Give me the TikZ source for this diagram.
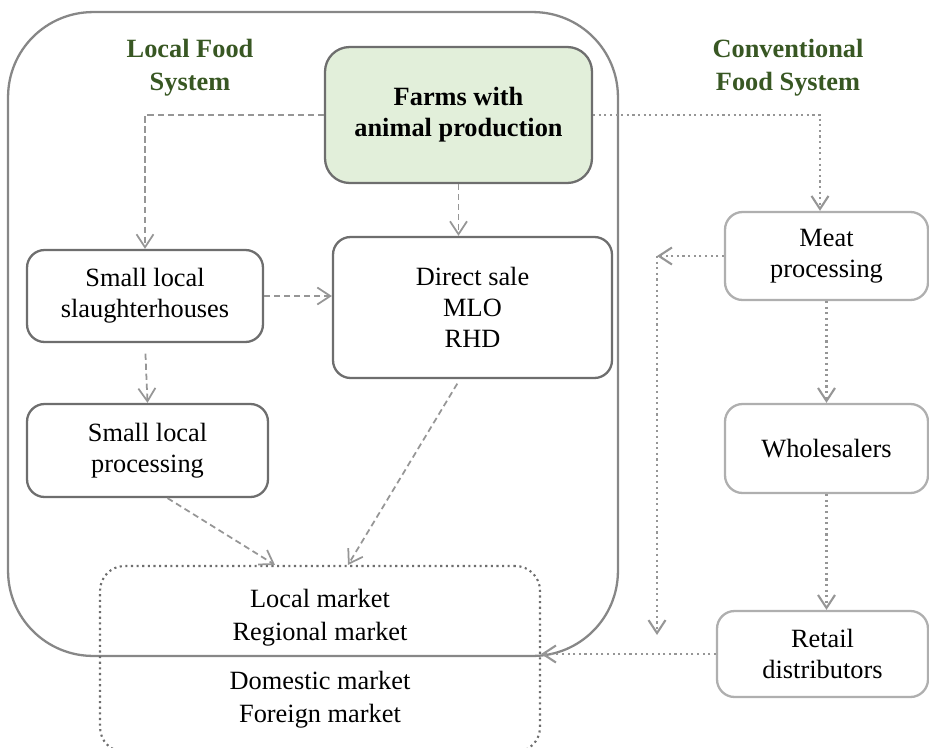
\documentclass[tikz,border=0pt]{standalone}
\usepackage{fontspec}
\setmainfont{Liberation Serif}
\usepackage{tikz}
\usetikzlibrary{positioning,calc}
\usetikzlibrary{arrows.meta}
\definecolor{FarmGreen}{RGB}{226,239,218}
\definecolor{TitleGreen}{RGB}{56,87,35}
\definecolor{FrameGray}{RGB}{135,135,135}
\definecolor{LineGray}{RGB}{150,150,150}
\definecolor{BoxGray}{RGB}{110,110,110}
\definecolor{ConvGray}{RGB}{175,175,175}
\tikzset{
  txt/.style={font=\fontsize{15}{17.6}\selectfont,align=center},
  title/.style={txt,font=\fontsize{15}{19}\selectfont\bfseries,text=TitleGreen},
  localbox/.style={txt,draw=BoxGray,line width=1.3pt,rounded corners=10pt,fill=white},
  convbox/.style={txt,draw=ConvGray,line width=1.3pt,rounded corners=10pt,fill=white},
  farmbox/.style={txt,draw=BoxGray,line width=1.3pt,rounded corners=14pt,fill=FarmGreen,
    font=\fontsize{15}{17.6}\selectfont\bfseries},
  lflow/.style={draw=LineGray,line width=1pt,dash pattern=on 3.5pt off 2.2pt,
    -{Straight Barb[length=2.6mm,width=3.4mm]}},
  cflow/.style={draw=LineGray,line width=1.2pt,dotted,
    -{Straight Barb[length=2.6mm,width=3.4mm]}},
}
\begin{document}
\begin{tikzpicture}[x=0.02cm,y=-0.02cm]
\useasboundingbox (0,0) rectangle (929,747);
% frame of the local food system
\node[draw=FrameGray,line width=1.3pt,rounded corners=1.7cm,minimum width=12.2cm,
  minimum height=12.88cm] (localsys) at (313,334) {};
\node[title] (localtitle) at (190,68) {Local Food\\System};
\node[title] (convtitle) at (788,68) {Conventional\\Food System};
% boxes
\node[farmbox,minimum width=5.34cm,minimum height=2.72cm] (farms) at (458.5,115)
  {Farms with\\animal production};
\node[localbox,minimum width=5.58cm,minimum height=2.82cm] (direct) at (472.5,307.5)
  {Direct sale\\MLO\\RHD};
\node[localbox,minimum width=4.72cm,minimum height=1.84cm] (slaughter) at (145,296)
  {Small local\\slaughterhouses};
\node[localbox,minimum width=4.82cm,minimum height=1.86cm] (processing) at (147.5,450.5)
  {Small local\\processing};
\node[txt,draw=BoxGray,line width=1.2pt,dotted,rounded corners=14pt,minimum width=8.8cm,
  minimum height=3.72cm,font=\fontsize{15}{18.8}\selectfont] (market) at (320,659)
  {Local market\\Regional market\\[9pt]Domestic market\\Foreign market};
\node[convbox,minimum width=4.06cm,minimum height=1.76cm] (meat) at (826.5,256)
  {Meat\\processing};
\node[convbox,minimum width=4.06cm,minimum height=1.78cm] (wholesale) at (826.5,448.5)
  {Wholesalers};
\node[convbox,minimum width=4.22cm,minimum height=1.72cm] (retail) at (822.5,654)
  {Retail\\distributors};
\coordinate (turn) at (657,256);
\coordinate (drop) at (657,635);
% local flows
\draw[lflow] (farms.west) -| (slaughter.north);
\draw[lflow] (farms.south) -- (farms.south |- direct.north);
\draw[lflow] (slaughter.east) -- (slaughter.east -| direct.west);
\draw[lflow,shorten <=6pt] (slaughter.south) -- (processing.north);
\draw[lflow] ([xshift=0.4cm]processing.south) -- ([xshift=-0.9cm]market.north);
\draw[lflow,shorten <=3pt] ([xshift=-0.25cm]direct.south) -- ([xshift=0.56cm]market.north);
% conventional flows
\draw[cflow] (farms.east) -| ([xshift=-0.13cm]meat.north);
\draw[cflow] (meat.south) -- (wholesale.north);
\draw[cflow] (wholesale.south) -- (retail.north -| wholesale.south);
\draw[cflow] (retail.west) -- (retail.west -| market.east);
\draw[cflow] (meat.west) -- (turn);
\draw[cflow] (turn) -- (drop);
\end{tikzpicture}
\end{document}
